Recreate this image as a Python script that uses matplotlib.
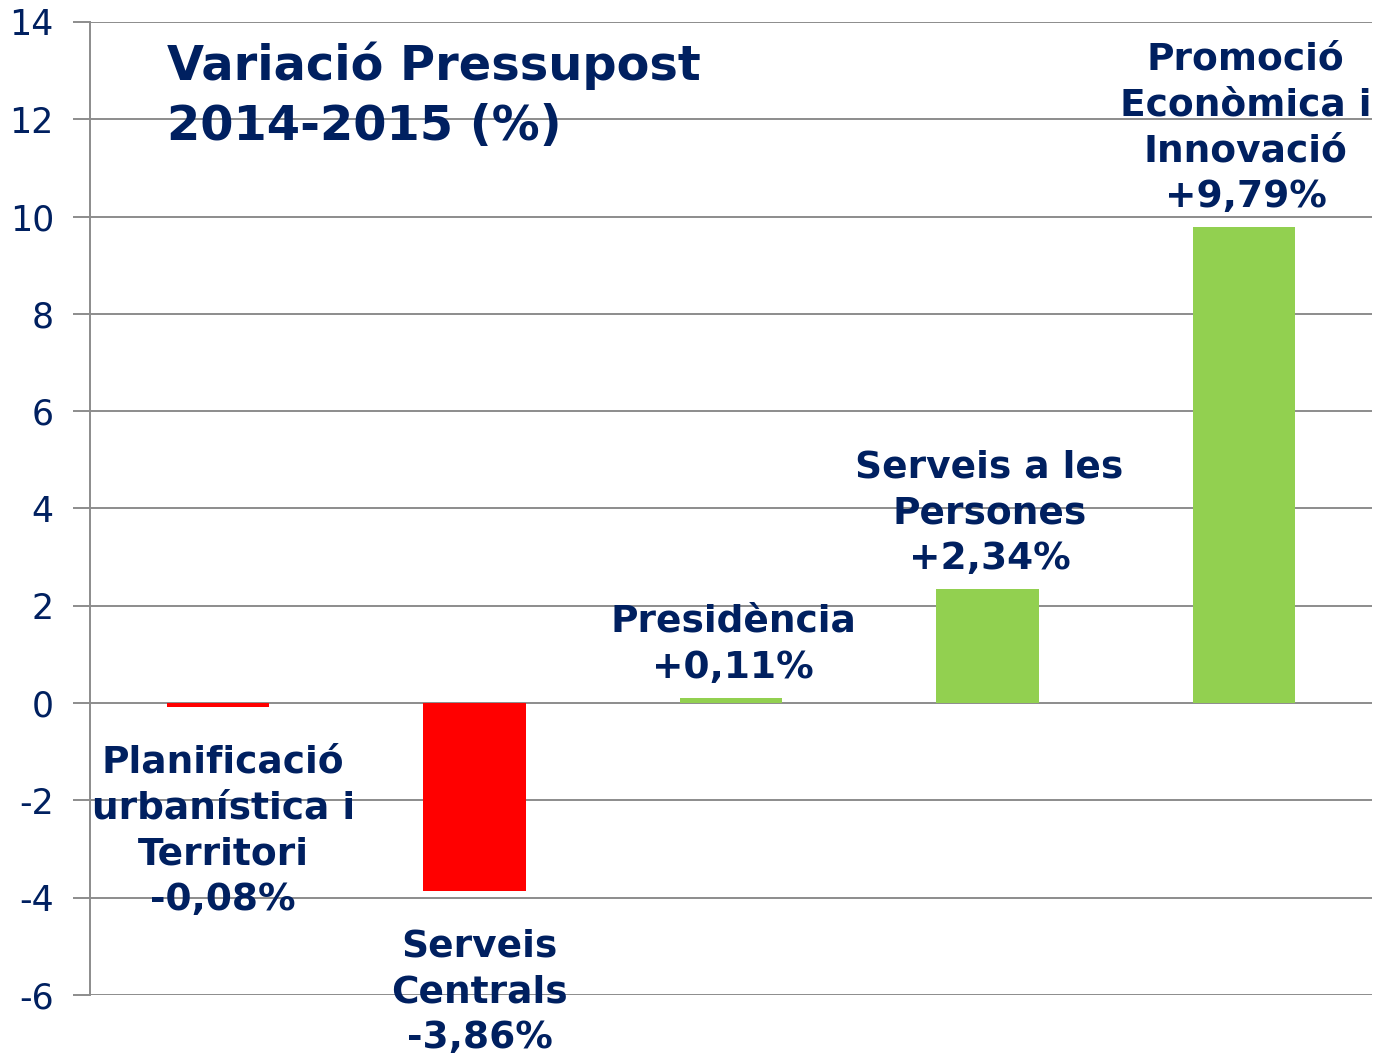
import matplotlib
matplotlib.use('Agg')
import matplotlib.pyplot as plt

plt.rcParams['axes.unicode_minus'] = False

# Data
labels = ['Planificació\nurbanística i\nTerritori\n-0,08%',
          'Serveis\nCentrals\n-3,86%',
          'Presidència\n+0,11%',
          'Serveis a les\nPersones\n+2,34%',
          'Promoció\nEconòmica i\nInnovació\n+9,79%']
values = [-0.08, -3.86, 0.11, 2.34, 9.79]

navy = '#002060'
grid_col = '#8c8c8c'
colors = ['#FF0000' if v < 0 else '#92D050' for v in values]

fig = plt.figure(figsize=(13.77, 10.58), dpi=100)
ax = fig.add_axes([90 / 1377, 1 - 995 / 1058, (1372 - 90) / 1377, (995 - 22) / 1058])

x = range(len(values))
ax.bar(x, values, width=0.4, color=colors, zorder=2)

ax.set_xlim(-0.5, 4.5)
ax.set_ylim(-6, 14)
ax.set_yticks(range(-6, 15, 2))
ax.set_xticks([])
ax.yaxis.grid(True, color=grid_col, linewidth=1.4, zorder=0)
ax.set_axisbelow(True)

for side in ['top', 'right', 'bottom']:
    ax.spines[side].set_visible(False)
ax.spines['left'].set_color(grid_col)
ax.spines['left'].set_linewidth(1.4)
ax.tick_params(axis='y', colors=grid_col, length=12, width=1.4, labelsize=25,
               labelcolor=navy, pad=14)

# Data labels
for i, (lab, v) in enumerate(zip(labels, values)):
    if v >= 0:
        ax.annotate(lab, xy=(i, v), xytext=(2, 12), textcoords='offset pixels',
                    ha='center', va='bottom', fontsize=27, fontweight='bold',
                    color=navy, linespacing=1.35, zorder=3)
    else:
        ax.annotate(lab, xy=(i, v), xytext=(5, -38), textcoords='offset pixels',
                    ha='center', va='top', fontsize=27, fontweight='bold',
                    color=navy, linespacing=1.35, zorder=3, annotation_clip=False)

# Title
fig.text(167 / 1377, 1 - 42 / 1058, 'Variació Pressupost\n2014-2015 (%)',
         ha='left', va='top', fontsize=34.5, fontweight='bold', color=navy,
         linespacing=1.35)

fig.savefig('out.png', dpi=100)
